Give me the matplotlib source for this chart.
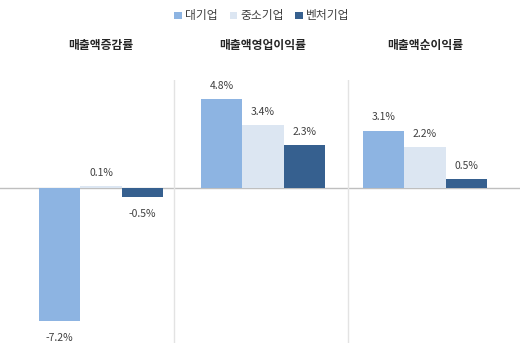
import matplotlib
matplotlib.use('Agg')
import matplotlib.pyplot as plt
import matplotlib.transforms as mtransforms
from matplotlib.patches import Patch
import numpy as np

plt.rcParams['font.family'] = ['Noto Sans CJK KR', 'DejaVu Sans']

# data
groups = ['매출액증감률', '매출액영업이익률', '매출액순이익률']
series = ['대기업', '중소기업', '벤처기업']
large = [-7.2, 4.8, 3.1]
small = [0.1, 3.4, 2.2]
venture = [-0.5, 2.3, 0.5]
colors = ['#8DB4E2', '#DCE6F2', '#36608F']

fig = plt.figure(figsize=(5.25, 3.56), dpi=100)
ax = fig.add_axes([0.0, 13 / 356, 520 / 525, 263 / 356])

x = np.arange(len(groups))
w = 0.256
vals = [large, small, venture]
for i, (v, c) in enumerate(zip(vals, colors)):
    pos = x + (i - 1) * w
    ax.bar(pos, v, width=w, color=c, zorder=2)
    for px, pv in zip(pos, v):
        off = 9.5 if pv >= 0 else -12
        ax.annotate('%.1f%%' % pv, (px, pv), xytext=(0, off), textcoords='offset points',
                    ha='center', va='center', fontsize=7.5, color='#404040')

# zero line + group separators
ax.axhline(0, color='#BFBFBF', lw=1, zorder=1)
for s in [0.45, 1.525]:
    ax.axvline(s, color='#E3E3E3', lw=1, zorder=1)

ax.set_xlim(-0.623, 2.586)
ax.set_ylim(-8.38, 5.84)
ax.axis('off')

# group titles
trans = mtransforms.blended_transform_factory(ax.transData, fig.transFigure)
for gx, g in zip(x, groups):
    ax.text(gx, 1 - 45 / 356, g, transform=trans, ha='center', va='center',
            fontsize=8.5, fontweight='bold', color='#262626')

handles = [Patch(facecolor=c, label=s) for s, c in zip(series, colors)]
fig.legend(handles=handles, loc='center', bbox_to_anchor=(262 / 525, 1 - 16 / 356),
           ncol=3, frameon=False, fontsize=8.5, handlelength=0.6, handleheight=0.6,
           handletextpad=0.3, columnspacing=1.0, labelcolor='#404040')

fig.savefig('out.png', dpi=100)
